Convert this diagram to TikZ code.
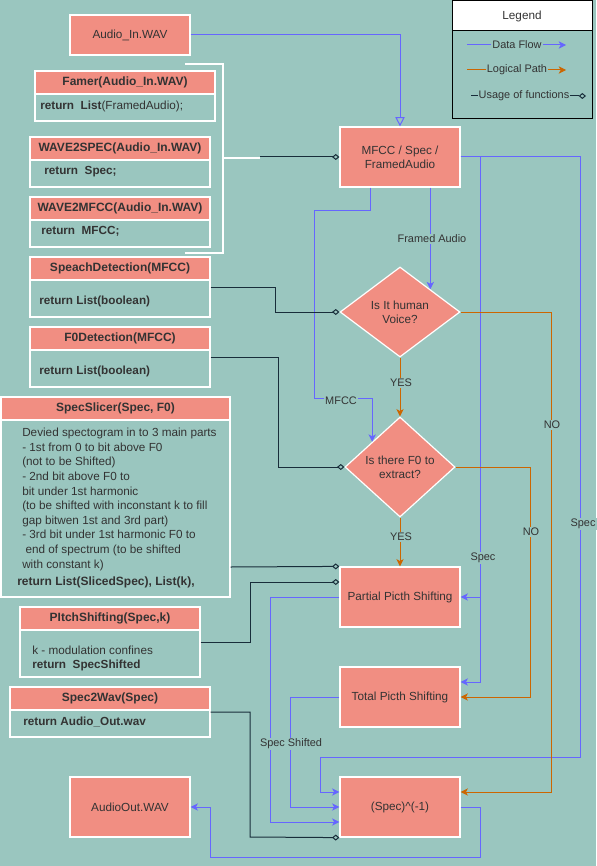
\documentclass[tikz,border=0pt]{standalone}
\usepackage{fontspec}
\setmainfont{Liberation Sans}
\usetikzlibrary{arrows.meta,shapes.geometric}
\definecolor{bgc}{RGB}{154,198,191}
\definecolor{salm}{RGB}{241,142,130}
\definecolor{flowc}{RGB}{102,102,255}
\definecolor{logc}{RGB}{204,102,0}
\definecolor{darkc}{RGB}{24,45,58}
\definecolor{txtc}{RGB}{51,51,51}
\newcommand{\fmain}{\fontsize{8.8}{10.5}\selectfont}
\newcommand{\fmainb}{\bfseries\fontsize{9}{11}\selectfont}
\newcommand{\flab}{\fontsize{8.2}{10}\selectfont}
\begin{document}
\begin{tikzpicture}[x=0.75pt,y=-0.75pt,
  every node/.style={text=txtc},
  pbox/.style={draw=white, line width=0.9pt, fill=salm, font=\fmain, align=center, inner sep=0pt, minimum width=90pt, minimum height=45pt},
  hdr/.style={draw=white, line width=0.9pt, fill=salm, font=\fmainb, inner sep=0pt, minimum height=17.25pt},
  bdy/.style={draw=white, line width=0.9pt, inner sep=0pt},
  btxt/.style={anchor=west, font=\fmain, inner sep=0pt, align=left},
  dec/.style={diamond, draw=white, line width=0.9pt, fill=salm, font=\fmain, align=center, inner sep=0pt, aspect=1.3},
  lbl/.style={fill=bgc, font=\flab, inner sep=0.8pt},
  dflow/.style={draw=flowc, line width=0.75pt, -{Stealth[length=5.5pt,width=5.5pt,inset=1.5pt]}},
  lflow/.style={draw=logc, line width=0.75pt, -{Stealth[length=5.5pt,width=5.5pt,inset=1.5pt]}},
  usef/.style={draw=darkc, line width=0.75pt, -{Diamond[open,length=5.5pt,width=4.5pt]}},
]
\fill[bgc] (0,0) rectangle (596,866);
\useasboundingbox (0,0) rectangle (596,866);

% main process nodes
\node[pbox, minimum height=30pt] (audioin) at (130,35) {Audio\_In.WAV};
\node[pbox] (mfcc) at (400,157) {MFCC / Spec /\\FramedAudio};
\node[dec, minimum width=90pt, minimum height=67.5pt] (d1) at (400,312) {Is It human\\Voice?};
\node[dec, minimum width=82.5pt, minimum height=75pt] (d2) at (400,467) {Is there F0 to\\extract?};
\node[pbox] (partial) at (400,597) {Partial Picth Shifting};
\node[pbox] (total) at (400,697) {Total Picth Shifting};
\node[pbox] (inv) at (400,807) {(Spec)\textasciicircum(-1)};
\node[pbox] (audioout) at (130,807) {AudioOut.WAV};

% function boxes
\node[hdr, minimum width=135pt] (famerH) at (125,82.5) {Famer(Audio\_In.WAV)};
\node[bdy, minimum width=135pt, minimum height=20.25pt] (famerB) at (125,107.5) {};
\node[btxt] (famerT) at (40,106) {\textbf{return\ \ List}(FramedAudio);};

\node[hdr, minimum width=135pt] (w2sH) at (120,148.5) {WAVE2SPEC(Audio\_In.WAV)};
\node[bdy, minimum width=135pt, minimum height=20.25pt] (w2sB) at (120,173.5) {};
\node[btxt] (w2sT) at (44,172) {\textbf{return\ \ Spec;}};

\node[hdr, minimum width=135pt] (w2mH) at (120,208.5) {WAVE2MFCC(Audio\_In.WAV)};
\node[bdy, minimum width=135pt, minimum height=20.25pt] (w2mB) at (120,233.5) {};
\node[btxt] (w2mT) at (41,231) {\textbf{return\ \ MFCC;}};

\node[hdr, minimum width=135pt] (spH) at (120,268.5) {SpeachDetection(MFCC)};
\node[bdy, minimum width=135pt, minimum height=27.75pt] (spB) at (120,298.5) {};
\node[btxt] (spT) at (39,301) {\textbf{return List(boolean)}};

\node[hdr, minimum width=135pt] (f0H) at (120,338.5) {F0Detection(MFCC)};
\node[bdy, minimum width=135pt, minimum height=27.75pt] (f0B) at (120,368.5) {};
\node[btxt] (f0T) at (39,371) {\textbf{return List(boolean)}};

\node[hdr, minimum width=171.75pt] (slH) at (115.5,408.5) {SpecSlicer(Spec, F0)};
\node[bdy, minimum width=171.75pt, minimum height=132.75pt] (slB) at (115.5,508.5) {};
\node[anchor=north west, font={\fontsize{8.8}{10.95}\selectfont}, inner sep=0pt, align=left] (slT) at (22,428) {Devied spectogram in to 3 main parts\\- 1st from 0 to bit above F0\\(not to be Shifted)\\- 2nd bit above F0 to\\bit under 1st harmonic\\(to be shifted with inconstant k to fill\\gap bitwen 1st and 3rd part)\\- 3rd bit under 1st harmonic F0 to\\\hspace*{2.5pt}end of spectrum (to be shifted\\with constant k)};
\node[btxt, font=\fmainb] (slR) at (17,582) {return List(SlicedSpec), List(k),};

\node[hdr, minimum width=135pt] (psH) at (110,618.5) {PItchShifting(Spec,k)};
\node[bdy, minimum width=135pt, minimum height=35.25pt] (psB) at (110,653.5) {};
\node[btxt] (psT1) at (32,650) {k - modulation confines};
\node[btxt] (psT2) at (32,665) {\textbf{return\ \ SpecShifted}};

\node[hdr, minimum width=150pt] (swH) at (110,698.5) {Spec2Wav(Spec)};
\node[bdy, minimum width=150pt, minimum height=20.25pt] (swB) at (110,723.5) {};
\node[btxt] (swT) at (23,722) {\textbf{return Audio\_Out.wav}};

% white bracket grouping the three first functions
\draw[white, line width=1.5pt] (185,64) -- (223,64) -- (223,253) -- (185,253);
\draw[white, line width=1.5pt] (223,158) -- (260,158);
\coordinate (brk) at (260,157);

% legend
\node[draw=black, line width=0.75pt, fill=white, minimum width=105pt, minimum height=22.5pt, inner sep=0pt, font=\fmain] (legH) at (522,16) {Legend};
\node[draw=black, line width=0.75pt, minimum width=105pt, minimum height=66pt, inner sep=0pt] (legB) at (522,75) {};
\coordinate (lgA1) at (467,45); \coordinate (lgA2) at (566,45);
\coordinate (lgB1) at (467,70); \coordinate (lgB2) at (566,70);
\coordinate (lgC1) at (471,96); \coordinate (lgC2) at (586,96);
\draw[dflow] (lgA1) -- (lgA2);
\draw[lflow] (lgB1) -- (lgB2);
\draw[usef] (lgC1) -- (lgC2);
\node[lbl] (lgT1) at (517,45) {Data Flow};
\node[lbl] (lgT2) at (517,70) {Logical Path};
\node[lbl] (lgT3) at (524,96) {Usage of functions};

% data flow
\draw[draw=flowc, line width=0.75pt, -{Triangle[open,length=7pt,width=7pt]}] (audioin.east) -| (mfcc.north);
\draw[dflow] (mfcc.south -| d1.north east) -- (d1.north east);
\draw[dflow] ([xshift=-22.5pt]mfcc.south) -- (370,211) -- (314,211) -- (314,398) -| (d2.north west);
\draw[dflow] (mfcc.east) -- (480,157) -- (480,682) -- ([yshift=11.25pt]total.east);
\coordinate (sj) at (480,597);
\draw[dflow] (sj) -- (partial.east);
\draw[dflow] (mfcc.east) -- (580,157) -- (580,757) -- (320,757) -- (320,792) -- ([yshift=11.25pt]inv.west);
\draw[dflow] (partial.west) -- (270,597) -- (270,822) -- ([yshift=-11.25pt]inv.west);
\draw[dflow] (total.west) -- (290,697) -- (290,807) -- (inv.west);
\draw[dflow] (inv.east) -- (480,807) -- (480,857) -- (210,857) -- (210,807) -- (audioout.east);

% logical path
\draw[lflow] (d1.south) -- (d2.north);
\draw[lflow] (d1.east) -- (551,312) -- (551,792) -- ([yshift=11.25pt]inv.east);
\draw[lflow] (d2.south) -- (partial.north);
\draw[lflow] (d2.east) -- (530,467) -- (530,697) -- (total.east);

% usage of functions
\draw[usef] (brk) -- (mfcc.west);
\draw[usef] ([yshift=8.625pt]spB.east) -- (275,287) -- (275,312) -- (d1.west);
\draw[usef] ([yshift=8.625pt]f0B.east) -- (278,357) -- (278,467) -- (d2.west);
\draw[usef] ([yshift=-43.875pt]slB.east) -- (partial.north west);
\draw[usef] ([yshift=8.625pt]psB.east) -- (250,642) -- (250,582) -- ([yshift=11.25pt]partial.west);
\draw[usef] ([yshift=8.625pt]swB.east) -- (250,712) -- (250,837) -- (inv.south west);

% labels
\node[lbl] (lFA) at (432,239) {Framed Audio};
\node[lbl] (lMF) at (341,401) {MFCC};
\node[lbl] (lY1) at (401,383) {YES};
\node[lbl] (lY2) at (401,537) {YES};
\node[lbl] (lN1) at (552,425) {NO};
\node[lbl] (lN2) at (531,532) {NO};
\node[lbl] (lS1) at (483,558) {Spec};
\node[lbl] (lS2) at (583,524) {Spec};
\node[lbl] (lSS) at (291,744) {Spec Shifted};
\end{tikzpicture}
\end{document}
